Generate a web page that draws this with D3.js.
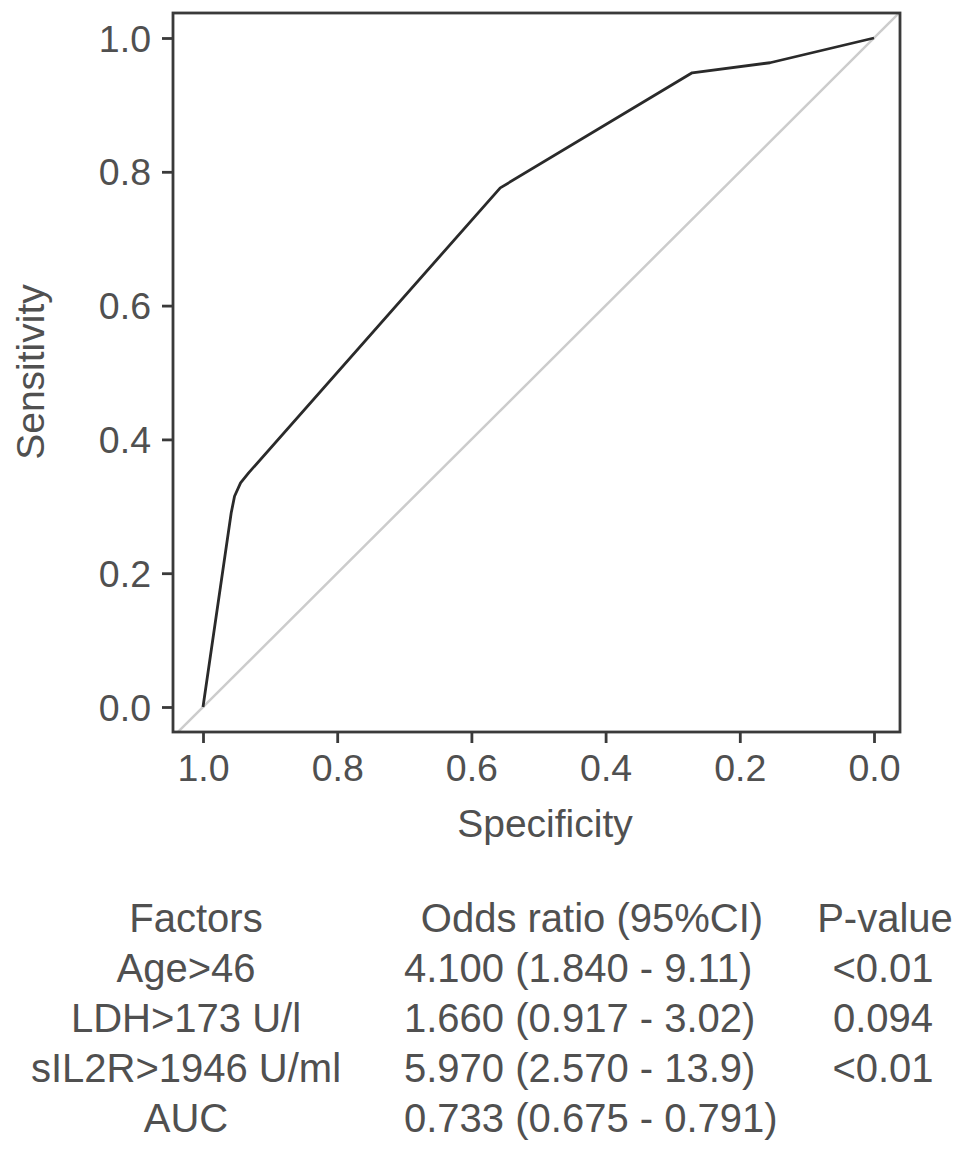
<!DOCTYPE html>
<html><head><meta charset="utf-8">
<script src="https://cdn.jsdelivr.net/npm/d3@7"></script>
<style>
html,body{margin:0;padding:0;background:#fff;}
text{font-family:"Liberation Sans",Arial,sans-serif;fill:#505050;}
</style></head>
<body>
<svg id="chart" width="969" height="1155"></svg>
<script>
// ROC curve points (specificity, sensitivity)
const specificity = [1.0, 0.958, 0.953, 0.944, 0.932, 0.557, 0.271, 0.155, 0.0];
const sensitivity = [0.0, 0.290, 0.315, 0.335, 0.350, 0.776, 0.948, 0.963, 1.0];
const xTicks = [1.0, 0.8, 0.6, 0.4, 0.2, 0.0];
const yTicks = [0.0, 0.2, 0.4, 0.6, 0.8, 1.0];
const refLine = [[1.06, -0.06], [-0.06, 1.06]];

// table
const tableHeaders = ["Factors", "Odds ratio (95%CI)", "P-value"];
const factors = ["Age>46", "LDH>173 U/l", "sIL2R>1946 U/ml", "AUC"];
const oddsRatios = ["4.100 (1.840 - 9.11)", "1.660 (0.917 - 3.02)", "5.970 (2.570 - 13.9)", "0.733 (0.675 - 0.791)"];
const pValues = ["<0.01", "0.094", "<0.01", ""];

const svg = d3.select("#chart");
const box = {left: 173, right: 900, top: 13, bottom: 732};
const x = d3.scaleLinear().domain([1, 0]).range([203, 874]);
const y = d3.scaleLinear().domain([0, 1]).range([707, 38]);

svg.append("defs").append("clipPath").attr("id", "clip")
  .append("rect").attr("x", box.left).attr("y", box.top)
  .attr("width", box.right - box.left).attr("height", box.bottom - box.top);

// reference diagonal
svg.append("path")
  .datum(refLine)
  .attr("clip-path", "url(#clip)")
  .attr("d", d3.line().x(d => x(d[0])).y(d => y(d[1])))
  .attr("stroke", "#cccccc").attr("stroke-width", 2.5).attr("fill", "none");

// ROC curve
const pts = specificity.map((s, i) => [s, sensitivity[i]]);
svg.append("path")
  .datum(pts)
  .attr("d", d3.line().x(d => x(d[0])).y(d => y(d[1])))
  .attr("stroke", "#2a2a2a").attr("stroke-width", 2.8).attr("fill", "none")
  .attr("stroke-linejoin", "round");

// box
svg.append("rect")
  .attr("x", box.left).attr("y", box.top)
  .attr("width", box.right - box.left).attr("height", box.bottom - box.top)
  .attr("fill", "none").attr("stroke", "#3a3a3a").attr("stroke-width", 2.8);

// axes
const xAxis = svg.append("g").attr("transform", `translate(0,${box.bottom})`)
  .call(d3.axisBottom(x).tickValues(xTicks).tickFormat(d3.format(".1f")).tickSize(11).tickPadding(11));
const yAxis = svg.append("g").attr("transform", `translate(${box.left},0)`)
  .call(d3.axisLeft(y).tickValues(yTicks).tickFormat(d3.format(".1f")).tickSize(11).tickPadding(11));
[xAxis, yAxis].forEach(g => {
  g.select(".domain").remove();
  g.selectAll(".tick line").attr("stroke", "#3a3a3a").attr("stroke-width", 2.8);
  g.selectAll(".tick text").attr("fill", "#505050").style("font-size", "37.5px")
    .style("font-family", "'Liberation Sans', Arial, sans-serif");
});
yAxis.selectAll(".tick text").attr("dy", "0.35em");

// axis titles
svg.append("text").attr("x", 545).attr("y", 837).attr("text-anchor", "middle")
  .style("font-size", "39px").text("Specificity");
svg.append("text").attr("transform", "translate(44,372) rotate(-90)").attr("text-anchor", "middle")
  .style("font-size", "39px").text("Sensitivity");

// table
const rowY = d3.scaleLinear().domain([0, 4]).range([932, 1132]);
const t = svg.append("g").style("font-size", "40px");
t.append("text").attr("x", 196).attr("y", rowY(0)).attr("text-anchor", "middle").text(tableHeaders[0]);
t.append("text").attr("x", 592).attr("y", rowY(0)).attr("text-anchor", "middle").text(tableHeaders[1]);
t.append("text").attr("x", 885).attr("y", rowY(0)).attr("text-anchor", "middle").text(tableHeaders[2]);
factors.forEach((f, i) => {
  t.append("text").attr("x", 186).attr("y", rowY(i + 1)).attr("text-anchor", "middle").text(f);
  t.append("text").attr("x", 404).attr("y", rowY(i + 1)).attr("text-anchor", "start").text(oddsRatios[i]);
  t.append("text").attr("x", 883).attr("y", rowY(i + 1)).attr("text-anchor", "middle").text(pValues[i]);
});
</script>
</body></html>
